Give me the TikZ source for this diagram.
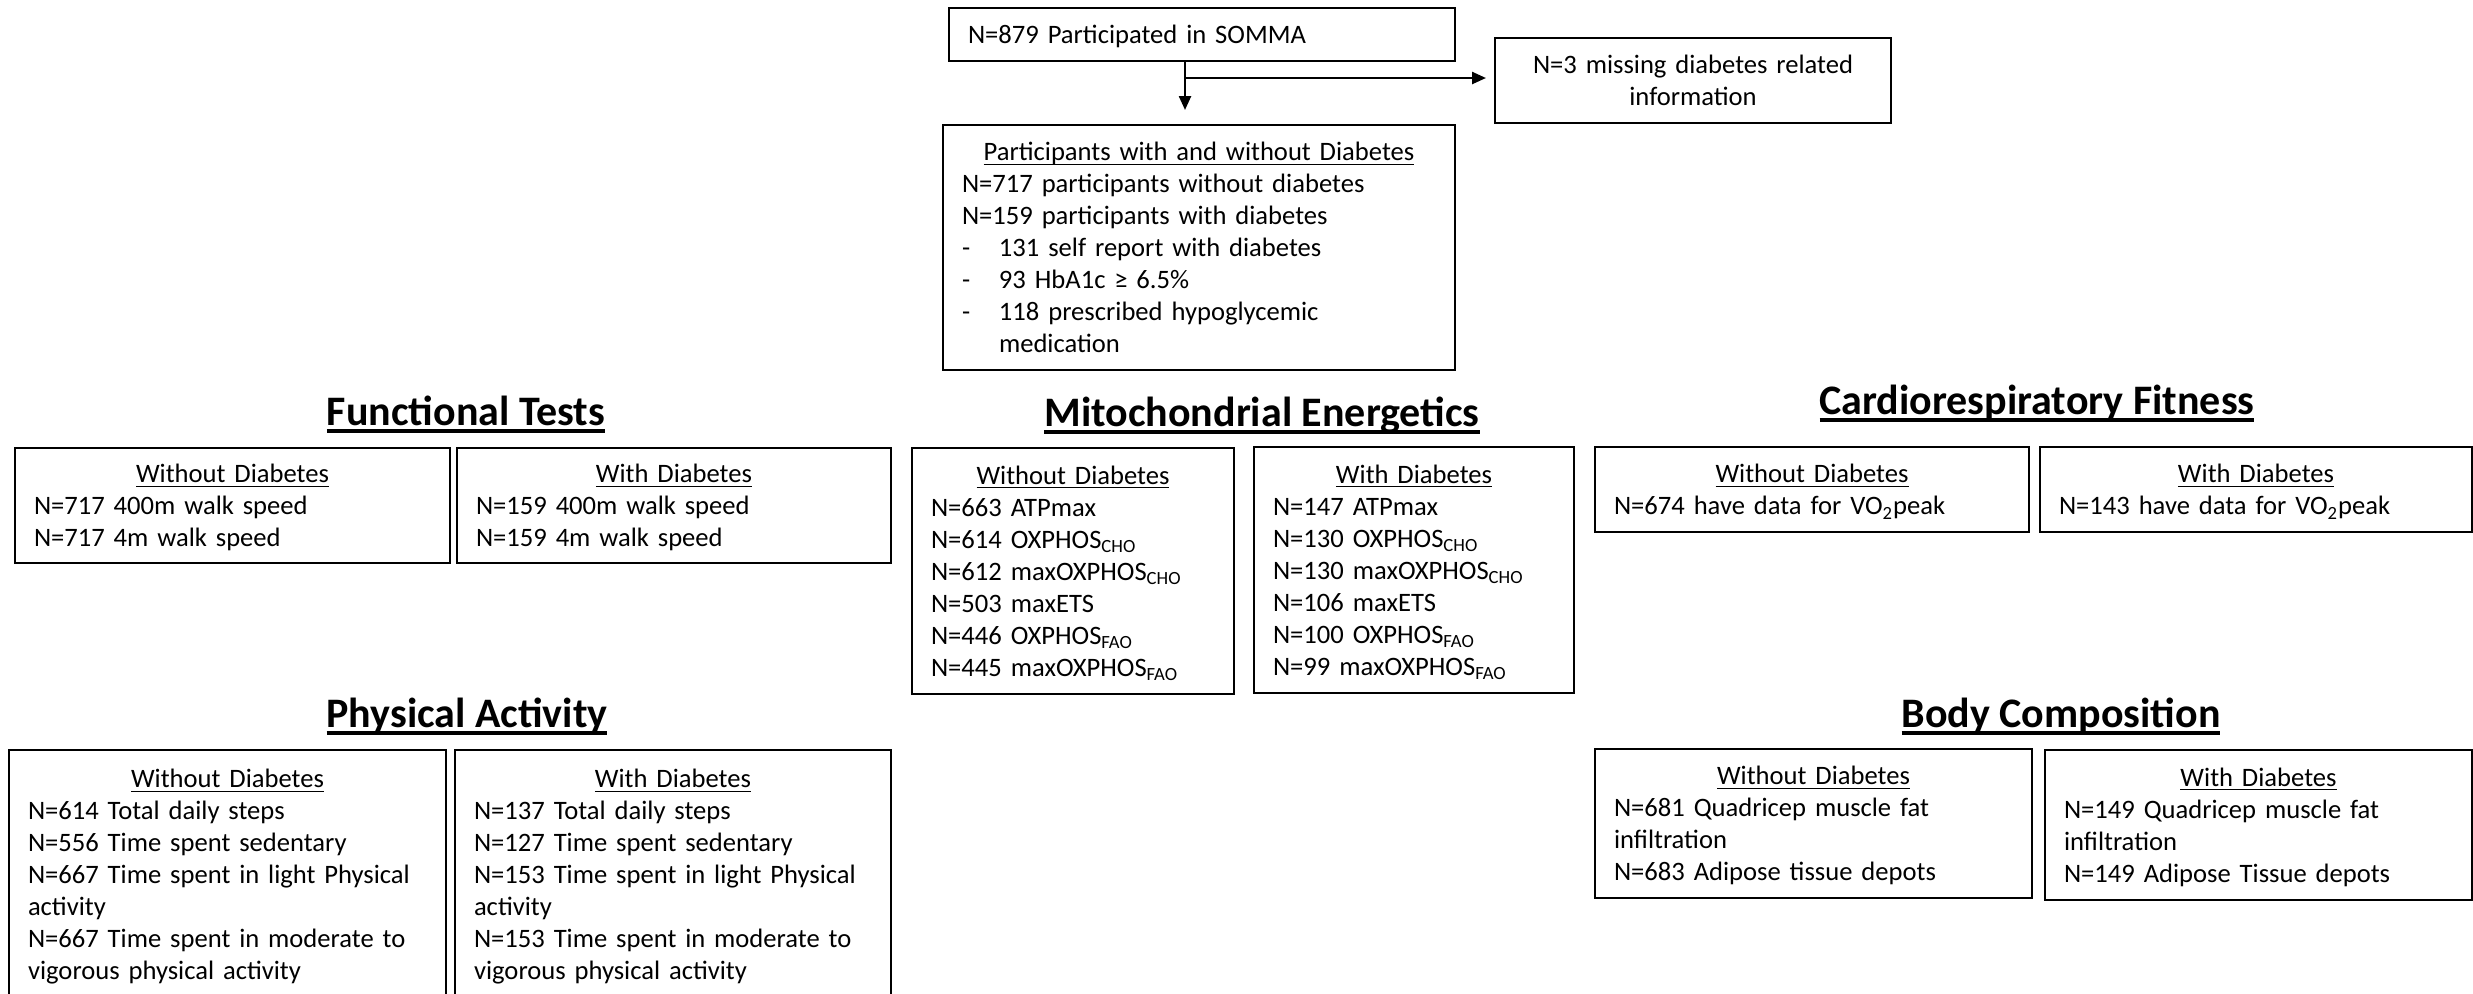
\documentclass[tikz,border=0pt]{standalone}
\usepackage{fontspec}
\setmainfont{Carlito}
\usetikzlibrary{arrows.meta}

\newcommand\bodyfont{\fontsize{13.3}{16}\selectfont}
\newcommand\groupfont{\fontsize{21}{25}\selectfont\bfseries}
\newcommand\topstrut{\rule[-4.8pt]{0pt}{19pt}}
\newcommand\ulinebox[3]{\setbox0=\hbox{#3}\rlap{\rule[-\dimexpr#1+#2\relax]{\wd0}{#2}}\box0}
\newcommand\boxhead[1]{{\centering\topstrut\ulinebox{1.3pt}{0.7pt}{#1}\par}}
\newcommand\grouphead[1]{\ulinebox{2.2pt}{1.6pt}{#1}}
\newcommand\itemdash{\makebox[18.5pt][l]{-}}

\begin{document}
\begin{tikzpicture}[x=0.5pt,y=-0.5pt,
    frame/.style={draw, line width=1pt, anchor=north west, inner xsep=9.5pt,
      inner ysep=0pt, align=left, font=\bodyfont},
    heading/.style={anchor=base, inner sep=0pt, font=\groupfont},
    arr/.style={line width=1.2pt, -{Triangle[length=7pt,width=6pt]}}]
    \useasboundingbox (0,0) rectangle (2473,993);

    \node[frame, minimum width=253pt, minimum height=26.5pt, text width=234pt] (top) at (948,7)
        {\topstrut N=879 Participated in SOMMA\strut};
    \node[frame, align=center, minimum width=198pt, minimum height=42.5pt, text width=179pt] (miss) at (1494,37)
        {\topstrut N=3 missing diabetes related\\information\strut};
    \node[frame, minimum width=256pt, minimum height=122.5pt, text width=237pt] (part) at (942,124)
        {\boxhead{Participants with and without Diabetes}
         N=717 participants without diabetes\\
         N=159 participants with diabetes\\
         \itemdash 131 self report with diabetes\\
         \itemdash 93 HbA1c ≥ 6.5\%\\
         \itemdash 118 prescribed hypoglycemic\\
         \hspace*{18.5pt}medication\strut};

    \coordinate (split) at (1185,78);
    \draw[arr, shorten >=7pt] (top.south -| split) -- (split |- part.north);
    \draw[arr, shorten >=4pt] (split) -- (split -| miss.west);

    \node[heading] (ftHead) at (466,425) {\grouphead{Functional Tests}};
    \node[frame, minimum width=217.5pt, minimum height=57.5pt, text width=198.5pt] (ftA) at (14,447)
        {\boxhead{Without Diabetes}
         N=717 400m walk speed\\
         N=717 4m walk speed\strut};
    \node[frame, minimum width=217pt, minimum height=57.5pt, text width=198pt] (ftB) at (456,447)
        {\boxhead{With Diabetes}
         N=159 400m walk speed\\
         N=159 4m walk speed\strut};

    \node[heading] (meHead) at (1262,426) {\grouphead{Mitochondrial Energetics}};
    \node[frame, minimum width=161pt, minimum height=123pt, text width=142pt] (meA) at (911,447)
        {\boxhead{Without Diabetes}
         N=663 ATPmax\\
         N=614 OXPHOS\textsubscript{CHO}\\
         N=612 maxOXPHOS\textsubscript{CHO}\\
         N=503 maxETS\\
         N=446 OXPHOS\textsubscript{FAO}\\
         N=445 maxOXPHOS\textsubscript{FAO}\strut};
    \node[frame, minimum width=160pt, minimum height=123pt, text width=141pt] (meB) at (1253,446)
        {\boxhead{With Diabetes}
         N=147 ATPmax\\
         N=130 OXPHOS\textsubscript{CHO}\\
         N=130 maxOXPHOS\textsubscript{CHO}\\
         N=106 maxETS\\
         N=100 OXPHOS\textsubscript{FAO}\\
         N=99 maxOXPHOS\textsubscript{FAO}\strut};

    \node[heading] (crHead) at (2037,414) {\grouphead{Cardiorespiratory Fitness}};
    \node[frame, minimum width=217pt, minimum height=42.5pt, text width=198pt] (crA) at (1594,446)
        {\boxhead{Without Diabetes}
         N=674 have data for VO\textsubscript{2}peak\strut};
    \node[frame, minimum width=216pt, minimum height=42.5pt, text width=197pt] (crB) at (2039,446)
        {\boxhead{With Diabetes}
         N=143 have data for VO\textsubscript{2}peak\strut};

    \node[heading] (paHead) at (467,727) {\grouphead{Physical Activity}};
    \node[frame, minimum width=218.5pt, minimum height=124.5pt, text width=199.5pt] (paA) at (8,749)
        {\boxhead{Without Diabetes}
         N=614 Total daily steps\\
         N=556 Time spent sedentary\\
         N=667 Time spent in light Physical\\
         activity\\
         N=667 Time spent in moderate to\\
         vigorous physical activity\strut};
    \node[frame, minimum width=218pt, minimum height=124.5pt, text width=199pt] (paB) at (454,749)
        {\boxhead{With Diabetes}
         N=137 Total daily steps\\
         N=127 Time spent sedentary\\
         N=153 Time spent in light Physical\\
         activity\\
         N=153 Time spent in moderate to\\
         vigorous physical activity\strut};

    \node[heading] (bcHead) at (2061,727) {\grouphead{Body Composition}};
    \node[frame, minimum width=218.5pt, minimum height=74.5pt, text width=199.5pt] (bcA) at (1594,748)
        {\boxhead{Without Diabetes}
         N=681 Quadricep muscle fat\\
         infiltration\\
         N=683 Adipose tissue depots\strut};
    \node[frame, minimum width=213.5pt, minimum height=75pt, text width=194.5pt] (bcB) at (2044,749)
        {\boxhead{With Diabetes}
         N=149 Quadricep muscle fat\\
         infiltration\\
         N=149 Adipose Tissue depots\strut};
\end{tikzpicture}
\end{document}
